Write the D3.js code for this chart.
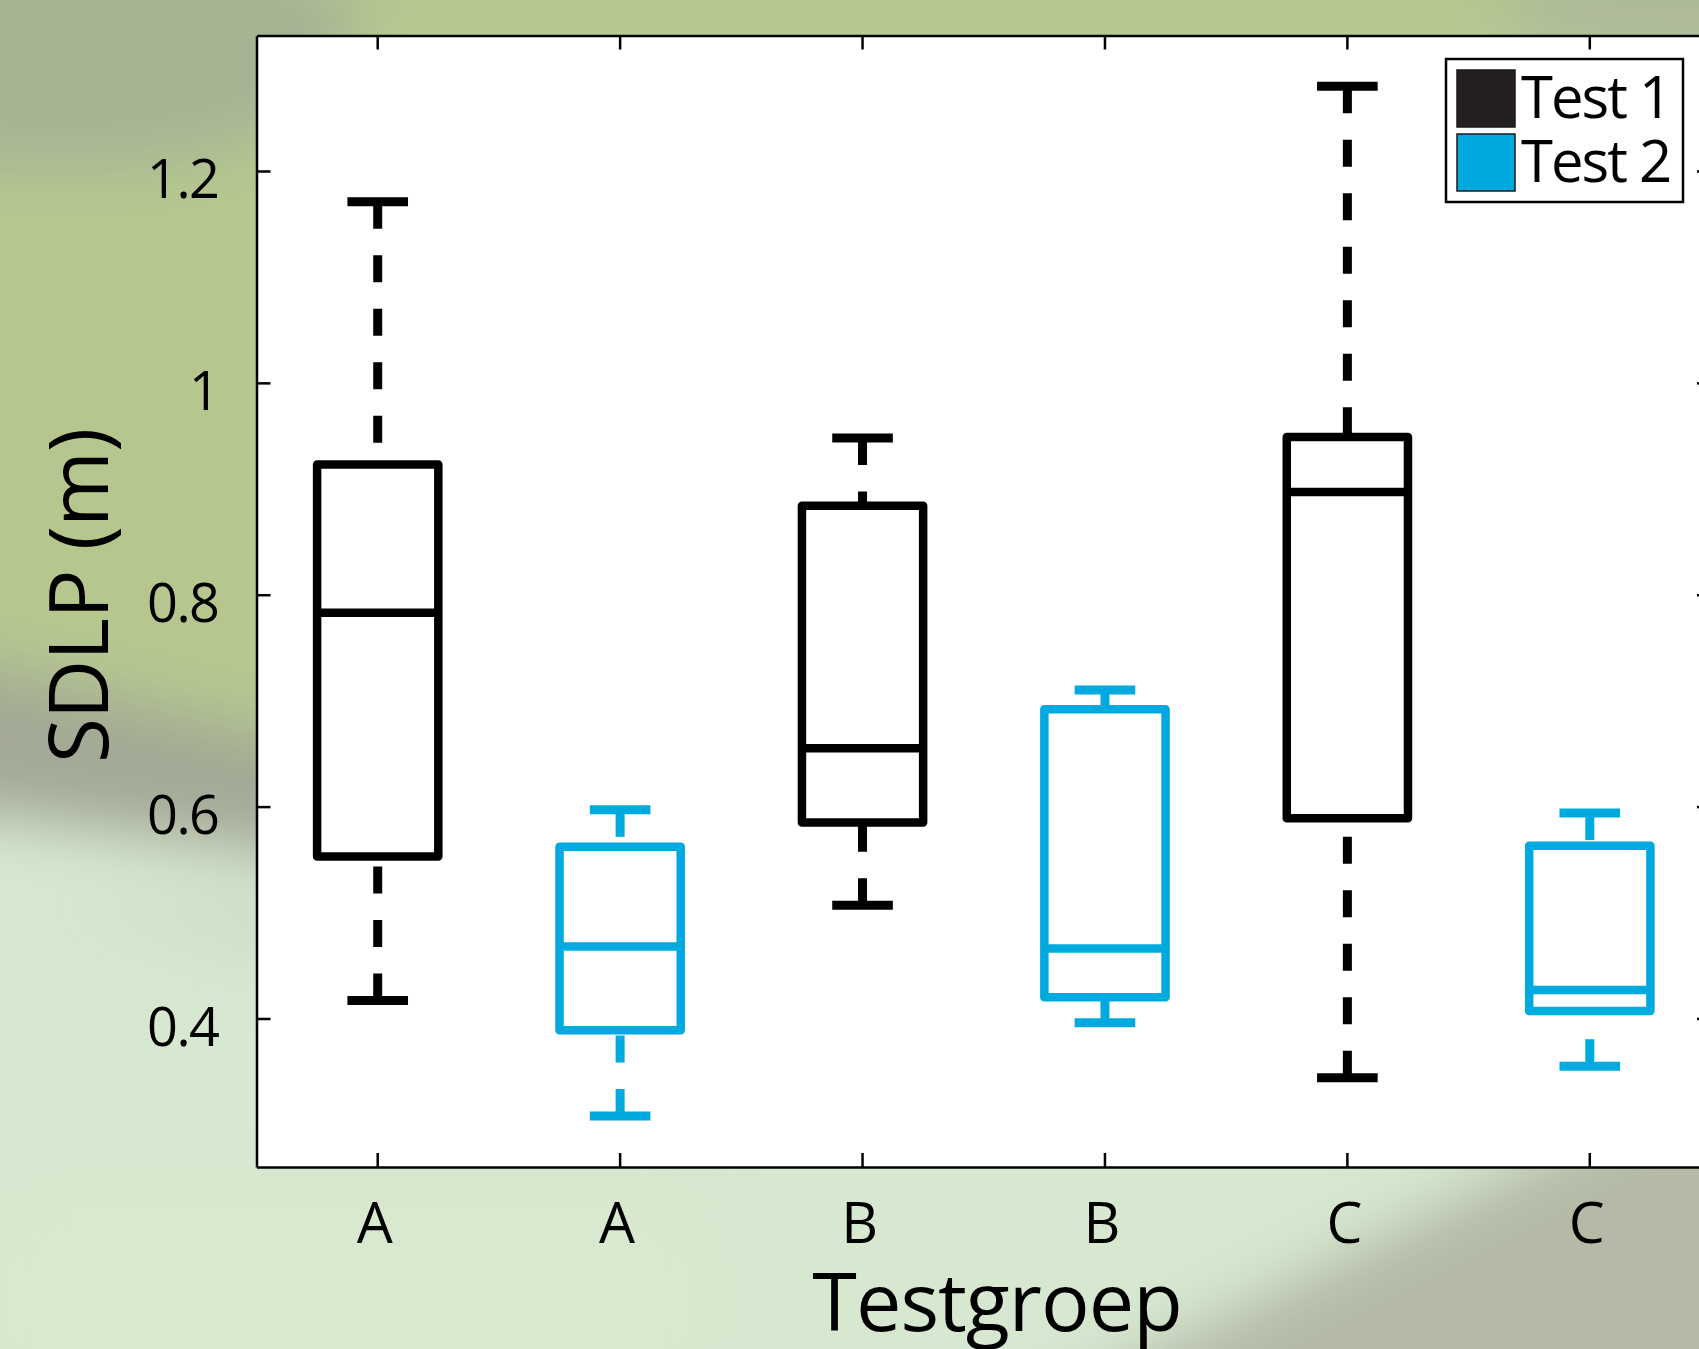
<!DOCTYPE html>
<html>
<head>
<meta charset="utf-8">
<script src="https://cdn.jsdelivr.net/npm/d3@7"></script>
<style>
  body { margin: 0; background: #d6e7cf; }
  svg { display: block; }
  text { font-family: "Open Sans", "Noto Sans", sans-serif; fill: #000; }
</style>
</head>
<body>
<script>
// five-number summaries per group: lower whisker, q1, median, q3, upper whisker
var groups = ["A", "B", "C"];
var seriesNames = ["Test 1", "Test 2"];
var test1 = [
    [0.417, 0.553, 0.783, 0.923, 1.171],
    [0.507, 0.585, 0.655, 0.884, 0.948],
    [0.344, 0.589, 0.897, 0.949, 1.280]
];
var test2 = [
    [0.308, 0.389, 0.468, 0.562, 0.597],
    [0.396, 0.420, 0.466, 0.692, 0.710],
    [0.355, 0.407, 0.427, 0.563, 0.594]
];
var yTicks = [0.4, 0.6, 0.8, 1, 1.2];
var yDomain = [0.2598, 1.3279];

var W = 1699, H = 1349;
var plot = {left: 256.5, right: 1711, top: 35.5, bottom: 1167};
var colors = ["#000000", "#00a9de"];
var swatch = ["#231f20", "#00a9de"];

var svg = d3.select("body").append("svg").attr("width", W).attr("height", H);

// ---- blurred photo background ----
var defs = svg.append("defs");
defs.append("filter").attr("id", "soft")
    .attr("x", "-20%").attr("y", "-20%").attr("width", "140%").attr("height", "140%")
    .append("feGaussianBlur").attr("stdDeviation", 30);

svg.append("rect").attr("width", W).attr("height", H).attr("fill", "#d7e8d0");
var bg = svg.append("g").attr("filter", "url(#soft)");
bg.append("path").attr("d", "M-200,-200H1900V80H330V770L-200,640Z").attr("fill", "#b5c78f");
bg.append("ellipse").attr("cx", 60).attr("cy", 40).attr("rx", 300).attr("ry", 130)
    .attr("fill", "#a1ae95").attr("opacity", 0.75);
bg.append("ellipse").attr("cx", 1720).attr("cy", 10).attr("rx", 220).attr("ry", 60)
    .attr("fill", "#a9b39c").attr("opacity", 0.7);
bg.append("path").attr("d", "M-200,620L330,750L330,860L-200,790Z").attr("fill", "#a3a995");
bg.append("path").attr("d", "M60,900L330,880L330,980Z").attr("fill", "#c8d7c3").attr("opacity", 0.6);
bg.append("path").attr("d", "M960,1450L1850,1000L1850,1450Z").attr("fill", "#b4baa5");
bg.append("path").attr("d", "M0,1200L700,1200L700,1400L0,1400Z").attr("fill", "#d9e9cf").attr("opacity", 0.7);

// ---- axes box ----
svg.append("rect")
    .attr("x", plot.left).attr("y", plot.top)
    .attr("width", plot.right - plot.left).attr("height", plot.bottom - plot.top)
    .attr("fill", "#fff");

var y = d3.scaleLinear().domain(yDomain).range([plot.bottom, plot.top]);

var positions = [];
groups.forEach(function (g, gi) {
    positions.push({label: g, stats: test1[gi], s: 0});
    positions.push({label: g, stats: test2[gi], s: 1});
});

var x = d3.scaleBand().domain(d3.range(positions.length))
    .range([plot.left, plot.right]).padding(0);
var cx = function (i) { return x(i) + x.bandwidth() / 2; };
var boxW = x.bandwidth() * 0.5, capW = x.bandwidth() * 0.25;

// ---- boxplots ----
var boxes = svg.append("g").selectAll("g").data(positions).enter().append("g")
    .attr("stroke", function (d) { return colors[d.s]; })
    .attr("fill", "none");

// whiskers dashed, starting at the cap
boxes.append("line")
    .attr("x1", function (d, i) { return cx(i); }).attr("x2", function (d, i) { return cx(i); })
    .attr("y1", function (d) { return y(d.stats[4]); }).attr("y2", function (d) { return y(d.stats[3]); })
    .attr("stroke-width", 9).attr("stroke-dasharray", "27,26.5");
boxes.append("line")
    .attr("x1", function (d, i) { return cx(i); }).attr("x2", function (d, i) { return cx(i); })
    .attr("y1", function (d) { return y(d.stats[0]); }).attr("y2", function (d) { return y(d.stats[1]); })
    .attr("stroke-width", 9).attr("stroke-dasharray", "27,26.5");

// caps
[0, 4].forEach(function (k) {
    boxes.append("line")
        .attr("x1", function (d, i) { return cx(i) - capW / 2; })
        .attr("x2", function (d, i) { return cx(i) + capW / 2; })
        .attr("y1", function (d) { return y(d.stats[k]); })
        .attr("y2", function (d) { return y(d.stats[k]); })
        .attr("stroke-width", 9);
});

boxes.append("rect")
    .attr("x", function (d, i) { return cx(i) - boxW / 2; })
    .attr("y", function (d) { return y(d.stats[3]); })
    .attr("width", boxW)
    .attr("height", function (d) { return y(d.stats[1]) - y(d.stats[3]); })
    .attr("stroke-width", 8.5).attr("stroke-linejoin", "round");

boxes.append("line")
    .attr("x1", function (d, i) { return cx(i) - boxW / 2; })
    .attr("x2", function (d, i) { return cx(i) + boxW / 2; })
    .attr("y1", function (d) { return y(d.stats[2]); })
    .attr("y2", function (d) { return y(d.stats[2]); })
    .attr("stroke-width", 8.5);

// ---- axes ----
var gLeft = svg.append("g").attr("transform", "translate(" + plot.left + ",0)")
    .call(d3.axisLeft(y).tickValues(yTicks).tickFormat(function (d) { return String(d); })
        .tickSizeInner(-14).tickSizeOuter(0).tickPadding(38));
gLeft.selectAll("text").attr("font-size", 54).attr("dy", "0.5em").attr("letter-spacing", -1.5);

svg.append("g").attr("transform", "translate(" + plot.right + ",0)")
    .call(d3.axisRight(y).tickValues(yTicks).tickFormat("").tickSizeInner(-14).tickSizeOuter(0));

var gBottom = svg.append("g").attr("transform", "translate(0," + plot.bottom + ")")
    .call(d3.axisBottom(x).tickFormat(function (i) { return positions[i].label; })
        .tickSizeInner(-14).tickSizeOuter(0).tickPadding(36));
gBottom.selectAll("text").attr("font-size", 57).attr("dx", -3);

svg.append("g").attr("transform", "translate(0," + plot.top + ")")
    .call(d3.axisTop(x).tickFormat("").tickSizeInner(-14).tickSizeOuter(0));

svg.selectAll(".domain").attr("stroke", "#000").attr("stroke-width", 2.5);
svg.selectAll(".tick line").attr("stroke", "#000").attr("stroke-width", 2.5);
svg.selectAll(".tick text").attr("fill", "#000").attr("font-family", "'Open Sans', sans-serif");

// ---- labels ----
svg.append("text")
    .attr("transform", "translate(108,596) rotate(-90)")
    .attr("text-anchor", "middle").attr("font-size", 82).attr("letter-spacing", -1)
    .text("SDLP (m)");
svg.append("text")
    .attr("x", 997).attr("y", 1331)
    .attr("text-anchor", "middle").attr("font-size", 81).attr("letter-spacing", -1)
    .text("Testgroep");

// ---- legend ----
var leg = svg.append("g").attr("transform", "translate(1446,59)");
leg.append("rect").attr("width", 237).attr("height", 143)
    .attr("fill", "#fff").attr("stroke", "#000").attr("stroke-width", 2.5);
var items = leg.selectAll("g.item").data(seriesNames).enter().append("g")
    .attr("transform", function (d, i) { return "translate(11," + (11 + i * 64) + ")"; });
items.append("rect").attr("width", 58).attr("height", 57)
    .attr("fill", function (d, i) { return swatch[i]; })
    .attr("stroke", "#1a1a1a").attr("stroke-width", 1.5);
items.append("text").attr("x", 64).attr("y", 48)
    .attr("font-size", 58).attr("letter-spacing", -2)
    .text(function (d) { return d; });
</script>
</body>
</html>
